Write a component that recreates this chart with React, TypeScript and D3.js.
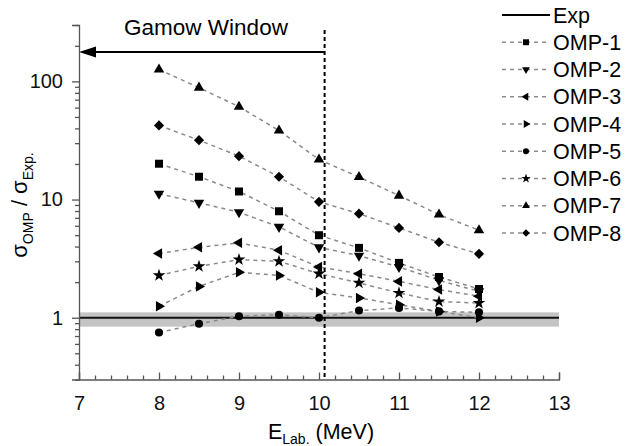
import React, { useEffect, useRef } from 'react';
import * as d3 from 'd3';

const energies = [8, 8.5, 9, 9.5, 10, 10.5, 11, 11.5, 12];
const seriesNames = ['OMP-1', 'OMP-2', 'OMP-3', 'OMP-4', 'OMP-5', 'OMP-6', 'OMP-7', 'OMP-8'];
const omp1 = [20.1, 15.6, 11.7, 7.96, 4.99, 3.9, 2.91, 2.21, 1.75];
const omp2 = [11.2, 9.38, 7.81, 5.87, 3.94, 3.35, 2.69, 2.07, 1.67];
const omp3 = [3.49, 3.94, 4.3, 3.72, 2.69, 2.36, 2.03, 1.73, 1.52];
const omp4 = [1.25, 1.84, 2.42, 2.28, 1.64, 1.47, 1.29, 1.13, 1.0];
const omp5 = [0.75, 0.89, 1.03, 1.06, 1.0, 1.15, 1.21, 1.13, 1.11];
const omp6 = [2.28, 2.72, 3.1, 3.0, 2.36, 1.97, 1.62, 1.37, 1.33];
const omp7 = [126, 88.5, 61, 38.4, 21.8, 15.5, 10.8, 7.46, 5.5];
const omp8 = [42.4, 31.8, 23.3, 15.6, 9.56, 7.6, 5.75, 4.35, 3.47];
const seriesValues = [omp1, omp2, omp3, omp4, omp5, omp6, omp7, omp8];

const expValue = 1;
const expBand = [0.84, 1.11];
const gamowEdge = 10.07;
const xTicks = [7, 8, 9, 10, 11, 12, 13];
const yTicks = [1, 10, 100];
// ————————————————————

const FONT = 'Liberation Sans, Arial, sans-serif';

// marker kind per series
const markerKinds = ['square', 'down', 'left', 'right', 'circle', 'star', 'up', 'diamond'];

function markerPath(kind: string, big: boolean) {
  const k = big ? 1 : 0.55;
  switch (kind) {
    case 'square': return { d: d3.symbol(d3.symbolSquare, 64 * k)(), rot: 0 };
    case 'circle': return { d: d3.symbol(d3.symbolCircle, 52 * k)(), rot: 0 };
    case 'star': return { d: d3.symbol(d3.symbolStar, 50 * k)(), rot: 0 };
    case 'diamond': return { d: d3.symbol(d3.symbolSquare, 52 * k)(), rot: 45 };
    case 'up': return { d: d3.symbol(d3.symbolTriangle, 48 * k)(), rot: 0 };
    case 'down': return { d: d3.symbol(d3.symbolTriangle, 48 * k)(), rot: 180 };
    case 'left': return { d: d3.symbol(d3.symbolTriangle, 48 * k)(), rot: -90 };
    default: return { d: d3.symbol(d3.symbolTriangle, 48 * k)(), rot: 90 };
  }
}

const App = () => {
  const ref = useRef<SVGSVGElement>(null);

  useEffect(() => {
    const svg = d3.select(ref.current);
    svg.selectAll('*').remove();

    const x = d3.scaleLinear().domain([7, 13]).range([79, 559]);
    const y = d3.scaleLog().domain([0.3, 300]).range([379.5, 25]);

    // experimental band + line
    svg.append('rect')
      .attr('x', x(7)).attr('width', x(13) - x(7))
      .attr('y', y(expBand[1])).attr('height', y(expBand[0]) - y(expBand[1]))
      .attr('fill', '#c4c4c4');
    svg.append('line')
      .attr('x1', x(7)).attr('x2', x(13))
      .attr('y1', y(expValue)).attr('y2', y(expValue))
      .attr('stroke', '#111').attr('stroke-width', 2);

    // series
    const line = d3.line<number>()
      .x((_, i) => x(energies[i]))
      .y(d => y(d));

    seriesValues.forEach(vals => {
      svg.append('path')
        .datum(vals)
        .attr('fill', 'none')
        .attr('stroke', '#8a8a8a')
        .attr('stroke-width', 1.5)
        .attr('stroke-dasharray', '4,4')
        .attr('d', line);
    });
    seriesValues.forEach((vals, s) => {
      const m = markerPath(markerKinds[s], true);
      svg.append('g').selectAll('path')
        .data(vals)
        .join('path')
        .attr('d', m.d)
        .attr('transform', (d, i) => `translate(${x(energies[i])},${y(d)}) rotate(${m.rot})`)
        .attr('fill', '#000');
    });

    // gamow window edge
    svg.append('line')
      .attr('x1', x(gamowEdge)).attr('x2', x(gamowEdge))
      .attr('y1', 30).attr('y2', 380)
      .attr('stroke', '#000').attr('stroke-width', 2)
      .attr('stroke-dasharray', '4,3');

    // arrow
    const ay = 52;
    svg.append('line')
      .attr('x1', x(gamowEdge)).attr('x2', x(7) + 12)
      .attr('y1', ay).attr('y2', ay)
      .attr('stroke', '#000').attr('stroke-width', 2);
    svg.append('path')
      .attr('d', `M${x(7)},${ay} L${x(7) + 17},${ay - 5.5} L${x(7) + 17},${ay + 5.5} Z`)
      .attr('fill', '#000');
    svg.append('text')
      .attr('x', 206).attr('y', 35)
      .attr('text-anchor', 'middle')
      .attr('font-family', FONT).attr('font-size', 22.5)
      .text('Gamow Window');

    // axes
    const minorY = [0.3, 0.4, 0.5, 0.6, 0.7, 0.8, 0.9, 2, 3, 4, 5, 6, 7, 8, 9,
      20, 30, 40, 50, 60, 70, 80, 90, 200, 300];
    const yAxis = svg.append('g').attr('transform', `translate(${x(7)},0)`);
    yAxis.call(d3.axisLeft(y).tickValues(yTicks).tickSize(7).tickPadding(9)
      .tickFormat(d3.format('d')));
    yAxis.append('g').call(d3.axisLeft(y).tickValues(minorY).tickSize(4).tickFormat(() => ''))
      .select('.domain').remove();

    const minorX = d3.range(7, 13.001, 0.2).filter(v => Math.abs(v - Math.round(v)) > 0.01);
    const xAxis = svg.append('g').attr('transform', `translate(0,${y(0.3)})`);
    xAxis.call(d3.axisBottom(x).tickValues(xTicks).tickSize(-7).tickPadding(16)
      .tickFormat(d3.format('d')));
    xAxis.append('g').call(d3.axisBottom(x).tickValues(minorX).tickSize(-4).tickFormat(() => ''))
      .select('.domain').remove();

    svg.selectAll('.domain').attr('stroke', '#555').attr('stroke-width', 1.3);
    svg.selectAll('.tick line').attr('stroke', '#555').attr('stroke-width', 1.3);
    svg.selectAll('.tick text')
      .attr('font-family', FONT).attr('font-size', 20).attr('fill', '#111');

    // axis titles
    const xt = svg.append('text')
      .attr('x', 321).attr('y', 439)
      .attr('text-anchor', 'middle')
      .attr('font-family', FONT).attr('font-size', 21.5);
    xt.append('tspan').text('E');
    xt.append('tspan').attr('font-size', 14).attr('dy', 5).text('Lab.');
    xt.append('tspan').attr('dy', -5).text(' (MeV)');

    const yt = svg.append('text')
      .attr('transform', 'translate(27,205) rotate(-90)')
      .attr('text-anchor', 'middle')
      .attr('font-family', FONT).attr('font-size', 22);
    yt.append('tspan').text('σ');
    yt.append('tspan').attr('font-size', 14).attr('dy', 6).text('OMP');
    yt.append('tspan').attr('dy', -6).text(' / σ');
    yt.append('tspan').attr('font-size', 14).attr('dy', 6).text('Exp.');

    // legend
    const lx0 = 502, lx1 = 550, ly0 = 15, step = 27.25;
    const lg = svg.append('g');
    lg.append('line')
      .attr('x1', lx0).attr('x2', lx1).attr('y1', ly0).attr('y2', ly0)
      .attr('stroke', '#000').attr('stroke-width', 2);
    lg.append('text')
      .attr('x', lx1 + 3).attr('y', ly0 + 7.5)
      .attr('font-family', FONT).attr('font-size', 21.5)
      .text('Exp');
    seriesNames.forEach((name, i) => {
      const yy = ly0 + step * (i + 1);
      lg.append('line')
        .attr('x1', lx0).attr('x2', lx1).attr('y1', yy).attr('y2', yy)
        .attr('stroke', '#8a8a8a').attr('stroke-width', 1.5)
        .attr('stroke-dasharray', '4,4');
      const m = markerPath(markerKinds[i], false);
      lg.append('path')
        .attr('d', m.d)
        .attr('transform', `translate(${(lx0 + lx1) / 2},${yy}) rotate(${m.rot})`)
        .attr('fill', '#000');
      lg.append('text')
        .attr('x', lx1 + 3).attr('y', yy + 7.5)
        .attr('font-family', FONT).attr('font-size', 21.5)
        .text(name);
    });
  }, []);

  return (
    <svg ref={ref} width={625} height={446}
      style={{ position: 'absolute', left: 0, top: 0, background: '#fff' }} />
  );
};

export default App;
